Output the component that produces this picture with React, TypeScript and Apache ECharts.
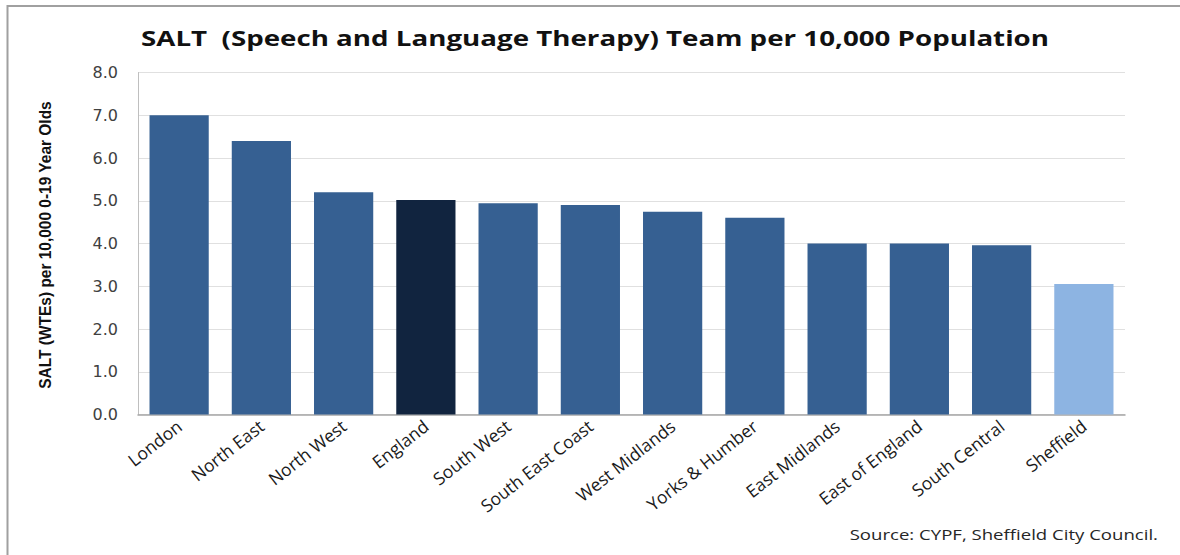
import React, { useEffect, useRef } from "react";
import * as echarts from "echarts";

const categories = [
  "London",
  "North East",
  "North West",
  "England",
  "South West",
  "South East Coast",
  "West Midlands",
  "Yorks & Humber",
  "East Midlands",
  "East of England",
  "South Central",
  "Sheffield",
];
const values = [7.0, 6.4, 5.2, 5.02, 4.94, 4.9, 4.74, 4.6, 4.0, 4.0, 3.96, 3.05];
const yTicks = { min: 0, max: 8, interval: 1 };
const titleText = "SALT  (Speech and Language Therapy) Team per 10,000 Population";
const yAxisTitle = "SALT (WTEs) per 10,000 0-19 Year Olds";
const sourceText = "Source: CYPF, Sheffield City Council.";

const BASE = "#366092";
const SPECIAL: Record<string, string> = { England: "#11243f", Sheffield: "#8db4e2" };

export default function App() {
  const ref = useRef<HTMLDivElement>(null);
  useEffect(() => {
    if (!ref.current) return;
    const chart = echarts.init(ref.current, null, { renderer: "svg" });
    chart.setOption({
      animation: false,
      backgroundColor: "#ffffff",
      grid: { left: 138, right: 55, top: 72.5, bottom: 140.5, containLabel: false },
      xAxis: {
        type: "category",
        data: categories,
        axisLine: { show: true, lineStyle: { color: "#a6a6a6", width: 1.5 } },
        axisTick: { show: false },
        axisLabel: {
          interval: 0,
          rotate: 38,
          margin: 9,
          color: "#1a1a1a",
          fontFamily: "Open Sans",
          fontSize: 17.5,
        },
      },
      yAxis: {
        type: "value",
        min: yTicks.min,
        max: yTicks.max,
        interval: yTicks.interval,
        axisLine: { show: true, lineStyle: { color: "#bfbfbf", width: 1 } },
        axisTick: { show: false },
        splitLine: { show: true, lineStyle: { color: "#e0e0e0", width: 1 } },
        axisLabel: {
          margin: 20,
          color: "#404040",
          fontFamily: "DejaVu Sans",
          fontSize: 16,
          formatter: (v: number) => v.toFixed(1),
        },
      },
      series: [
        {
          type: "bar",
          barCategoryGap: "28%",
          data: values.map((v, i) => ({
            value: v,
            itemStyle: { color: SPECIAL[categories[i]] || BASE },
          })),
        },
      ],
      graphic: [
        {
          type: "line",
          shape: { x1: 7, y1: 6, x2: 1180, y2: 6 },
          style: { stroke: "#a0a0a0", lineWidth: 2 },
        },
        {
          type: "line",
          shape: { x1: 7.5, y1: 5, x2: 7.5, y2: 555 },
          style: { stroke: "#a0a0a0", lineWidth: 2 },
        },
        {
          type: "text",
          x: 595,
          y: 37,
          scaleX: 1.26,
          style: {
            text: titleText,
            fontFamily: "Open Sans",
            fontWeight: "bold",
            fontSize: 22,
            fill: "#111111",
            textAlign: "center",
            textVerticalAlign: "middle",
          },
        },
        {
          type: "text",
          x: 45,
          y: 245,
          rotation: Math.PI / 2,
          scaleX: 0.91,
          style: {
            text: yAxisTitle,
            fontFamily: "Liberation Sans",
            fontWeight: "bold",
            fontSize: 17,
            fill: "#111111",
            textAlign: "center",
            textVerticalAlign: "middle",
          },
        },
        {
          type: "text",
          x: 1158,
          y: 534,
          scaleX: 1.24,
          style: {
            text: sourceText,
            fontFamily: "Open Sans",
            fontSize: 15,
            fill: "#262626",
            textAlign: "right",
            textVerticalAlign: "middle",
          },
        },
      ],
    });
    return () => chart.dispose();
  }, []);
  return (
    <div
      ref={ref}
      style={{ position: "fixed", left: 0, top: 0, width: 1180, height: 555, background: "#fff" }}
    />
  );
}
